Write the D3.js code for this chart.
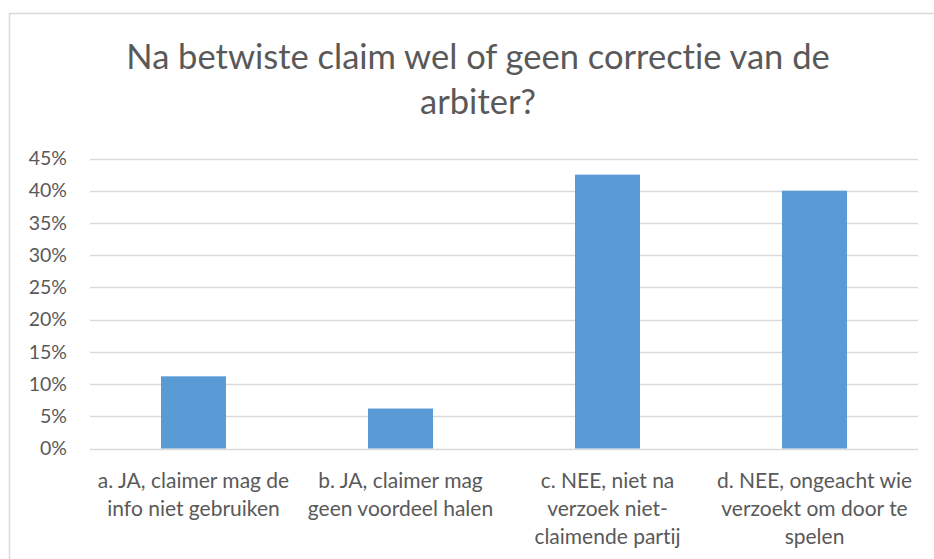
<!DOCTYPE html>
<html>
<head>
<meta charset="utf-8">
<script src="https://cdn.jsdelivr.net/npm/d3@7"></script>
<style>
  body { margin: 0; background: #fff; }
  svg text { font-family: Lato, "Open Sans", sans-serif; fill: #595959; font-variant-ligatures: none; }
</style>
</head>
<body>
<main></main>
<script>
// categories (each label already broken into the lines shown under the axis)
const categories = ["a", "b", "c", "d"];
const categoryLines = [
  ["a. JA, claimer mag de", "info niet gebruiken"],
  ["b. JA, claimer mag", "geen voordeel halen"],
  ["c. NEE, niet na", "verzoek niet-", "claimende partij"],
  ["d. NEE, ongeacht wie", "verzoekt om door te", "spelen"]
];
// share of answers
const shares = [0.112, 0.062, 0.425, 0.40];
const yTicks = [0, 0.05, 0.10, 0.15, 0.20, 0.25, 0.30, 0.35, 0.40, 0.45];
const titleLines = ["Na betwiste claim wel of geen correctie van de", "arbiter?"];

const width = 934, height = 559;
const plot = { left: 90, right: 918, top: 158.5, bottom: 448.5 };

const svg = d3.select("main").append("svg")
  .attr("width", width)
  .attr("height", height);

// chart frame (runs off the bottom/right of the picture)
svg.append("rect")
  .attr("x", 9.5).attr("y", 13.5)
  .attr("width", 960).attr("height", 600)
  .attr("fill", "none")
  .attr("stroke", "#d9d9d9")
  .attr("stroke-width", 1.5);

// title
svg.append("text")
  .attr("text-anchor", "middle")
  .attr("font-size", 34.5)
  .selectAll("tspan")
  .data(titleLines)
  .join("tspan")
    .attr("x", 478)
    .attr("y", (d, i) => 69 + i * 45)
    .text(d => d);

const x = d3.scaleBand()
  .domain(categories)
  .range([plot.left, plot.right])
  .paddingInner(0.686)
  .paddingOuter(0.343);

const y = d3.scaleLinear()
  .domain([0, 0.45])
  .range([plot.bottom, plot.top]);

// gridlines
svg.append("g")
  .selectAll("line")
  .data(yTicks)
  .join("line")
    .attr("x1", plot.left)
    .attr("x2", plot.right)
    .attr("y1", d => Math.round(y(d)) + 0.5)
    .attr("y2", d => Math.round(y(d)) + 0.5)
    .attr("stroke", "#d9d9d9")
    .attr("stroke-width", 1.3);

// y axis labels
const yAxis = svg.append("g")
  .attr("transform", `translate(${plot.left},0)`)
  .call(d3.axisLeft(y).tickValues(yTicks).tickFormat(d3.format(".0%")).tickSize(0).tickPadding(23));
yAxis.select(".domain").remove();
yAxis.selectAll("text")
  .attr("font-size", 19.5)
  .attr("fill", "#595959")
  .style("font-family", 'Lato, "Open Sans", sans-serif');

// bars
svg.append("g")
  .selectAll("rect")
  .data(shares)
  .join("rect")
    .attr("x", (d, i) => x(categories[i]))
    .attr("y", d => y(d))
    .attr("width", x.bandwidth())
    .attr("height", d => y(0) - y(d))
    .attr("fill", "#5b9bd5");

// category labels
svg.append("g")
  .selectAll("text")
  .data(categoryLines)
  .join("text")
    .attr("text-anchor", "middle")
    .attr("font-size", 21)
    .each(function(lines, i) {
      const cx = x(categories[i]) + x.bandwidth() / 2;
      d3.select(this).selectAll("tspan")
        .data(lines)
        .join("tspan")
          .attr("x", cx)
          .attr("y", (d, j) => 488 + j * 28)
          .text(d => d);
    });
</script>
</body>
</html>
